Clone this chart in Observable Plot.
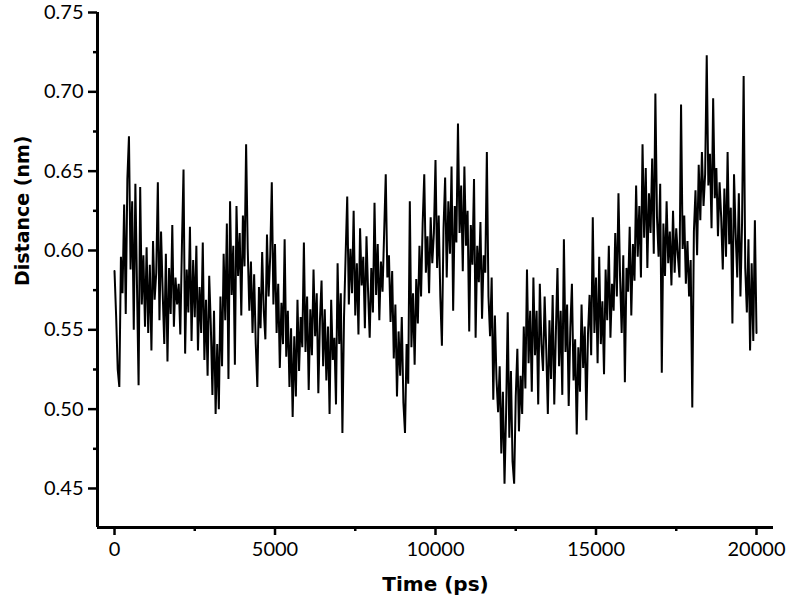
<!DOCTYPE html>
<html>
<head>
<meta charset="utf-8">
<script src="https://cdn.jsdelivr.net/npm/d3@7"></script>
<script src="https://cdn.jsdelivr.net/npm/@observablehq/plot@0.6"></script>
<style>
  html, body { margin: 0; padding: 0; background: #fff; }
</style>
</head>
<body>
<div id="chart"></div>
<script>
// Sampling step (ps) of the trajectory
const timeStep = 50;
// Distance (nm), one value every 50 ps from 0 to 20000 ps
const distance = [
  0.587,0.559,0.525,0.514,0.596,0.573,0.629,0.560,0.645,0.672,0.588,0.631,0.550,0.642,0.578,0.515,0.640,0.566,0.597,0.552,
  0.602,0.548,0.591,0.537,0.606,0.569,0.586,0.643,0.556,0.612,0.574,0.541,0.598,0.530,0.589,0.560,0.616,0.552,0.583,0.566,
  0.579,0.547,0.603,0.651,0.535,0.588,0.561,0.615,0.543,0.594,0.558,0.603,0.537,0.577,0.548,0.605,0.531,0.569,0.521,0.584,
  0.553,0.509,0.562,0.497,0.541,0.500,0.571,0.527,0.598,0.556,0.617,0.519,0.631,0.572,0.603,0.528,0.628,0.584,0.611,0.559,
  0.622,0.590,0.667,0.601,0.562,0.593,0.548,0.585,0.541,0.514,0.577,0.551,0.599,0.562,0.544,0.610,0.571,0.596,0.643,0.566,
  0.604,0.548,0.579,0.526,0.567,0.541,0.607,0.533,0.562,0.514,0.551,0.495,0.546,0.508,0.569,0.524,0.558,0.539,0.605,0.536,
  0.571,0.512,0.563,0.534,0.588,0.546,0.573,0.510,0.556,0.581,0.527,0.563,0.518,0.552,0.497,0.569,0.531,0.545,0.503,0.592,
  0.541,0.573,0.485,0.558,0.597,0.634,0.566,0.601,0.573,0.625,0.559,0.592,0.547,0.614,0.578,0.596,0.551,0.609,0.574,0.545,
  0.589,0.561,0.630,0.572,0.604,0.556,0.593,0.574,0.611,0.648,0.583,0.597,0.555,0.587,0.532,0.566,0.508,0.549,0.521,0.558,
  0.504,0.485,0.541,0.516,0.631,0.539,0.573,0.528,0.582,0.554,0.603,0.571,0.617,0.648,0.586,0.609,0.573,0.621,0.592,0.611,
  0.657,0.589,0.622,0.571,0.540,0.614,0.646,0.583,0.631,0.598,0.653,0.562,0.628,0.605,0.680,0.611,0.641,0.587,0.653,0.603,
  0.625,0.549,0.616,0.591,0.645,0.545,0.603,0.580,0.618,0.557,0.597,0.586,0.662,0.571,0.546,0.583,0.506,0.559,0.519,0.498,
  0.527,0.472,0.511,0.453,0.498,0.561,0.482,0.524,0.467,0.453,0.508,0.538,0.486,0.521,0.497,0.552,0.513,0.588,0.529,0.562,
  0.511,0.583,0.534,0.562,0.503,0.579,0.541,0.524,0.571,0.538,0.497,0.556,0.519,0.572,0.503,0.548,0.589,0.527,0.562,0.509,
  0.607,0.536,0.566,0.502,0.551,0.579,0.518,0.544,0.484,0.539,0.511,0.566,0.526,0.552,0.493,0.547,0.572,0.534,0.621,0.548,
  0.583,0.529,0.596,0.541,0.568,0.522,0.588,0.556,0.603,0.545,0.579,0.562,0.611,0.571,0.636,0.583,0.548,0.597,0.517,0.589,
  0.574,0.615,0.559,0.604,0.581,0.641,0.596,0.628,0.583,0.667,0.608,0.652,0.589,0.636,0.611,0.658,0.598,0.699,0.621,0.596,
  0.642,0.523,0.617,0.584,0.631,0.592,0.612,0.578,0.625,0.586,0.614,0.597,0.583,0.692,0.601,0.622,0.579,0.606,0.571,0.594,
  0.501,0.612,0.638,0.597,0.654,0.619,0.662,0.628,0.648,0.723,0.641,0.661,0.614,0.696,0.633,0.652,0.609,0.643,0.621,0.588,
  0.639,0.596,0.662,0.604,0.627,0.554,0.648,0.611,0.583,0.636,0.571,0.617,0.710,0.589,0.561,0.607,0.537,0.592,0.543,0.619,
  0.548
];
const xTicks = [0, 5000, 10000, 15000, 20000];
const xMinorTicks = [2500, 7500, 12500, 17500];
const yTicks = [0.45, 0.50, 0.55, 0.60, 0.65, 0.70, 0.75];
const yMinorTicks = [0.475, 0.525, 0.575, 0.625, 0.675, 0.725];
const xLabel = "Time (ps)";
const yLabel = "Distance (nm)";

const data = distance.map((d, i) => ({time: i * timeStep, distance: d}));
const xDomain = [-530, 20530];
const yDomain = [0.4254, 0.75];

const chart = Plot.plot({
  width: 796,
  height: 608,
  marginLeft: 97,
  marginRight: 23,
  marginTop: 12,
  marginBottom: 81,
  style: {color: "black", background: "white", fontFamily: "Lato, 'Open Sans', sans-serif", overflow: "visible"},
  x: {domain: xDomain, label: null},
  y: {domain: yDomain, label: null},
  marks: [
    Plot.line(data, {x: "time", y: "distance", stroke: "black", strokeWidth: 2, strokeLinejoin: "miter", strokeMiterlimit: 2}),
    Plot.axisX({ticks: xMinorTicks, tickSize: 4, tickFormat: () => "", strokeWidth: 2.5, label: null}),
    Plot.axisX({ticks: xTicks, tickSize: 8, tickPadding: 6, tickFormat: d3.format("d"), fontSize: 20, strokeWidth: 2.5, label: null}),
    Plot.axisY({ticks: yMinorTicks, tickSize: 4, tickFormat: () => "", strokeWidth: 2.5, label: null}),
    Plot.axisY({ticks: yTicks, tickSize: 9, tickPadding: 5, tickFormat: d3.format(".2f"), fontSize: 20, strokeWidth: 2.5, label: null}),
    Plot.ruleX([xDomain[0]], {stroke: "black", strokeWidth: 3}),
    Plot.ruleY([yDomain[0]], {stroke: "black", strokeWidth: 3}),
    Plot.text([xLabel], {frameAnchor: "bottom", dy: 63, fontSize: 20, fontWeight: "bold", fontFamily: "DejaVu Sans", fill: "black"}),
    Plot.text([yLabel], {frameAnchor: "left", rotate: -90, dx: -75, dy: 16, fontSize: 19, fontWeight: "bold", fontFamily: "DejaVu Sans", fill: "black"})
  ]
});
document.getElementById("chart").appendChild(chart);
</script>
</body>
</html>
